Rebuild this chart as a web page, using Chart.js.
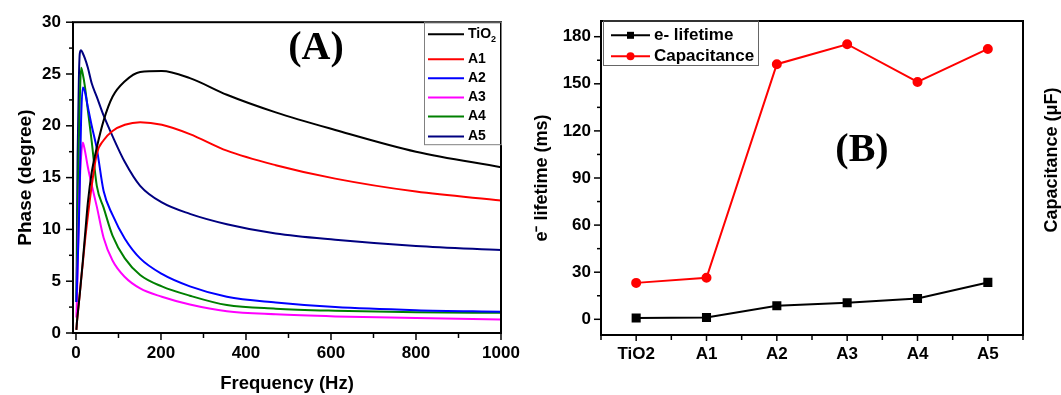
<!DOCTYPE html>
<html>
<head>
<meta charset="utf-8">
<script src="https://cdn.jsdelivr.net/npm/chart.js@4.4.0/dist/chart.umd.min.js"></script>
<style>
  html, body { margin: 0; padding: 0; background: #fff; }
  #quadro { position: relative; width: 1061px; height: 395px; overflow: hidden; }
  #graficoFase { position: absolute; left: 0; top: 0; }
  #graficoVida { position: absolute; left: 520px; top: 0; }
</style>
</head>
<body>
<div id="quadro">
  <canvas id="graficoFase" width="530" height="395"></canvas>
  <canvas id="graficoVida" width="541" height="395"></canvas>
</div>
<script>
// Dados do painel (A) - fase x frequência
const frequencia = [1, 2, 3.8, 6.8, 9, 12, 16, 21, 28, 37, 49, 65, 86, 115, 151, 202, 268, 355, 470, 610, 800, 1000];
const faseTiO2 = [0.3, 0.9, 1.7, 2.9, 3.8, 5.1, 6.9, 9.3, 12.6, 15.5, 17.9, 20.5, 22.8, 24.3, 25.2, 25.3, 24.6, 23.0, 21.3, 19.6, 17.5, 16.0];
const faseA1 = [0.3, 0.9, 1.7, 2.9, 3.8, 5.1, 6.7, 8.8, 11.3, 14.2, 17.3, 18.6, 19.5, 20.1, 20.35, 20.1, 19.2, 17.6, 16.2, 14.9, 13.65, 12.8];
const faseA2 = [3.0, 4.0, 6.5, 10.5, 14.5, 20.5, 23.7, 23.3, 21.8, 20.0, 17.8, 13.7, 11.4, 9.1, 7.2, 5.7, 4.5, 3.5, 2.95, 2.5, 2.2, 2.05];
const faseA3 = [1.5, 3.0, 6.0, 11.5, 14.5, 17.0, 18.4, 17.6, 16.0, 14.3, 12.2, 9.2, 7.0, 5.4, 4.3, 3.5, 2.75, 2.1, 1.8, 1.6, 1.45, 1.3];
const faseA4 = [3.0, 5.5, 10.5, 18.5, 22.5, 25.6, 25.0, 23.8, 21.5, 18.5, 14.2, 12.1, 9.4, 7.2, 5.6, 4.5, 3.6, 2.7, 2.35, 2.15, 2.0, 1.95];
const faseA5 = [3.0, 8.0, 17.0, 24.5, 27.0, 27.3, 27.0, 26.5, 25.6, 24.1, 22.8, 21.0, 19.0, 16.5, 14.2, 12.6, 11.5, 10.5, 9.6, 9.0, 8.4, 8.0];
const nomesFase = ["TiO2", "A1", "A2", "A3", "A4", "A5"];
const ticksFreq = [0, 200, 400, 600, 800, 1000];
const ticksFase = [0, 5, 10, 15, 20, 25, 30];

// Dados do painel (B)
const amostras = ["TiO2", "A1", "A2", "A3", "A4", "A5"];
const tempoVida = [0.8, 1.1, 8.6, 10.5, 13.2, 23.5];
const capacitancia = [23.2, 26.5, 162.5, 175.2, 151.2, 172.2];
const ticksVida = [0, 30, 60, 90, 120, 150, 180];

const coresFase = ["#000000", "#ff0000", "#0000ff", "#ff00ff", "#008000", "#000080"];
const fonteEixo = "'Liberation Sans', Arial, sans-serif";
const fonteSerif = "'Liberation Serif', 'Times New Roman', serif";

function linha(ctx, x1, y1, x2, y2) {
  ctx.beginPath();
  ctx.moveTo(x1, y1);
  ctx.lineTo(x2, y2);
  ctx.stroke();
}

// marcas maiores e menores (para fora) num eixo
function marcasY(ctx, scale, x) {
  scale.ticks.forEach((t, i) => {
    linha(ctx, x - 7, scale.getPixelForValue(t.value), x, scale.getPixelForValue(t.value));
    const prox = scale.ticks[i + 1];
    if (prox) {
      const ym = scale.getPixelForValue((t.value + prox.value) / 2);
      linha(ctx, x - 4, ym, x, ym);
    }
  });
}

function marcasX(ctx, scale, y) {
  scale.ticks.forEach((t, i) => {
    const xp = scale.getPixelForValue(t.value);
    linha(ctx, xp, y, xp, y + 7);
    const prox = scale.ticks[i + 1];
    if (prox) {
      const xm = scale.getPixelForValue((t.value + prox.value) / 2);
      linha(ctx, xm, y, xm, y + 5);
    }
  });
}

function fixarTicks(valores) {
  return (scale) => { scale.ticks = valores.map(v => ({ value: v })); };
}

// moldura, marcas e legenda do painel A
const molduraA = {
  id: "molduraA",
  afterDraw(chart) {
    const { ctx, chartArea: a, scales } = chart;
    ctx.save();
    ctx.strokeStyle = "#000";
    ctx.lineWidth = 2;
    ctx.strokeRect(a.left, a.top, a.right - a.left, a.bottom - a.top);
    ctx.lineWidth = 1.5;
    marcasY(ctx, scales.y, a.left);
    marcasX(ctx, scales.x, a.bottom);

    // legenda
    const x0 = a.right - 77;
    ctx.strokeStyle = "#808080";
    ctx.lineWidth = 1;
    ctx.strokeRect(x0 + 0.5, a.top, 77, 122.5);
    const linhasY = [12, 37, 56, 75.3, 94.3, 114.3];
    ctx.textBaseline = "middle";
    ctx.textAlign = "left";
    chart.data.datasets.forEach((ds, i) => {
      const y = a.top + linhasY[i];
      ctx.strokeStyle = ds.borderColor;
      ctx.lineWidth = 2;
      linha(ctx, x0 + 4, y, x0 + 40, y);
      ctx.fillStyle = "#000";
      ctx.font = "bold 14px " + fonteEixo;
      if (ds.label === "TiO2") {
        ctx.fillText("TiO", x0 + 44, y);
        const w = ctx.measureText("TiO").width;
        ctx.font = "bold 9px " + fonteEixo;
        ctx.fillText("2", x0 + 44 + w, y + 5);
      } else {
        ctx.fillText(ds.label, x0 + 44, y);
      }
    });

    ctx.font = "bold 40px " + fonteSerif;
    ctx.textAlign = "center";
    ctx.fillStyle = "#000";
    ctx.fillText("(A)", 316, 49);
    ctx.restore();
  }
};

// moldura, marcas e legenda do painel B
const molduraB = {
  id: "molduraB",
  afterDraw(chart) {
    const { ctx, chartArea: a, scales } = chart;
    ctx.save();
    ctx.strokeStyle = "#000";
    ctx.lineWidth = 2;
    ctx.strokeRect(a.left, a.top, a.right - a.left, a.bottom - a.top);
    ctx.lineWidth = 1.5;
    marcasY(ctx, scales.y, a.left);
    // categorias: marca em cada amostra e entre elas
    const sx = scales.x;
    amostras.forEach((_, i) => {
      const xp = sx.getPixelForValue(i);
      linha(ctx, xp, a.bottom, xp, a.bottom + 6);
      const xm = sx.getPixelForValue(i + 0.5);
      linha(ctx, xm, a.bottom, xm, a.bottom + 5);
      if (i === 0) {
        const xe = sx.getPixelForValue(-0.5);
        linha(ctx, xe, a.bottom, xe, a.bottom + 5);
      }
    });

    // legenda
    const x0 = a.left + 2;
    ctx.strokeStyle = "#666";
    ctx.lineWidth = 1;
    ctx.strokeRect(x0 + 0.5, a.top, 155, 44.5);
    const linhasY = [14.3, 35.3];
    ctx.textBaseline = "middle";
    ctx.textAlign = "left";
    ctx.font = "bold 17px " + fonteEixo;
    chart.data.datasets.forEach((ds, i) => {
      const y = a.top + linhasY[i];
      ctx.strokeStyle = ds.borderColor;
      ctx.fillStyle = ds.borderColor;
      ctx.lineWidth = 2;
      linha(ctx, x0 + 8, y, x0 + 47, y);
      if (ds.pointStyle === "rect") {
        ctx.fillRect(x0 + 24, y - 3.5, 7, 7);
      } else {
        ctx.beginPath();
        ctx.arc(x0 + 27.5, y, 4, 0, Math.PI * 2);
        ctx.fill();
      }
      ctx.fillStyle = "#000";
      ctx.fillText(ds.label, x0 + 51, y);
    });

    ctx.font = "bold 40px " + fonteSerif;
    ctx.textAlign = "center";
    ctx.fillText("(B)", 342, 151);

    // título do eixo da direita
    ctx.save();
    ctx.translate(532, 160);
    ctx.rotate(-Math.PI / 2);
    ctx.font = "bold 18px " + fonteEixo;
    ctx.fillText("Capacitance (\u03bcF)", 0, 0);
    ctx.restore();
    ctx.restore();
  }
};

function criarGraficoFase() {
  const series = [faseTiO2, faseA1, faseA2, faseA3, faseA4, faseA5];
  new Chart(document.getElementById("graficoFase"), {
    type: "line",
    data: {
      datasets: series.map((valores, i) => ({
        label: nomesFase[i],
        data: frequencia.map((f, j) => ({ x: f, y: valores[j] })),
        borderColor: coresFase[i],
        backgroundColor: coresFase[i],
        borderWidth: 2,
        pointRadius: 0,
        cubicInterpolationMode: "monotone"
      }))
    },
    options: {
      responsive: false,
      animation: false,
      layout: { padding: { top: 21, right: 29, left: 0, bottom: 0 } },
      plugins: { legend: { display: false }, tooltip: { enabled: false } },
      scales: {
        x: {
          type: "linear",
          min: -7,
          max: 1000,
          afterBuildTicks: fixarTicks(ticksFreq),
          afterFit: (s) => { s.height = 62; },
          grid: { display: false, drawTicks: false },
          border: { display: false },
          ticks: {
            padding: 10,
            color: "#000",
            font: { family: fonteEixo, size: 17, weight: "bold" },
            callback: (v) => String(v)
          },
          title: {
            display: true,
            text: "Frequency (Hz)",
            color: "#000",
            padding: 0,
            font: { family: fonteEixo, size: 18.5, weight: "bold" }
          }
        },
        y: {
          min: 0,
          max: 30,
          afterBuildTicks: fixarTicks(ticksFase),
          afterFit: (s) => { s.width = 73; },
          grid: { display: false, drawTicks: false },
          border: { display: false },
          ticks: {
            padding: 12,
            color: "#000",
            font: { family: fonteEixo, size: 17, weight: "bold" },
            callback: (v) => String(v)
          },
          title: {
            display: true,
            text: "Phase (degree)",
            color: "#000",
            padding: { top: 14, bottom: 0 },
            font: { family: fonteEixo, size: 19, weight: "bold" }
          }
        }
      }
    },
    plugins: [molduraA]
  });
}

function criarGraficoVida() {
  new Chart(document.getElementById("graficoVida"), {
    type: "line",
    data: {
      labels: amostras,
      datasets: [{
        label: "e- lifetime",
        data: tempoVida,
        borderColor: "#000000",
        backgroundColor: "#000000",
        borderWidth: 2,
        pointStyle: "rect",
        pointRadius: 5,
        tension: 0
      }, {
        label: "Capacitance",
        data: capacitancia,
        borderColor: "#ff0000",
        backgroundColor: "#ff0000",
        borderWidth: 2,
        pointStyle: "circle",
        pointRadius: 4,
        tension: 0
      }]
    },
    options: {
      responsive: false,
      animation: false,
      layout: { padding: { top: 21, right: 0, left: 0, bottom: 0 } },
      plugins: { legend: { display: false }, tooltip: { enabled: false } },
      scales: {
        x: {
          type: "category",
          offset: true,
          afterFit: (s) => { s.height = 60; },
          grid: { display: false, drawTicks: false },
          border: { display: false },
          ticks: {
            padding: 9,
            color: "#000",
            font: { family: fonteEixo, size: 17, weight: "bold" }
          }
        },
        y: {
          min: -10,
          max: 190,
          afterBuildTicks: fixarTicks(ticksVida),
          afterFit: (s) => { s.width = 81; },
          grid: { display: false, drawTicks: false },
          border: { display: false },
          ticks: {
            padding: 10,
            color: "#000",
            font: { family: fonteEixo, size: 17, weight: "bold" },
            callback: (v) => String(v)
          },
          title: {
            display: true,
            text: "e\u207b lifetime (ms)",
            color: "#000",
            padding: { top: 11, bottom: 0 },
            font: { family: fonteEixo, size: 18, weight: "bold" }
          }
        },
        y2: {
          position: "right",
          min: -10,
          max: 190,
          afterFit: (s) => { s.width = 38; },
          grid: { display: false, drawTicks: false },
          border: { display: false },
          ticks: { display: false }
        }
      }
    },
    plugins: [molduraB]
  });
}

criarGraficoFase();
criarGraficoVida();
</script>
</body>
</html>
